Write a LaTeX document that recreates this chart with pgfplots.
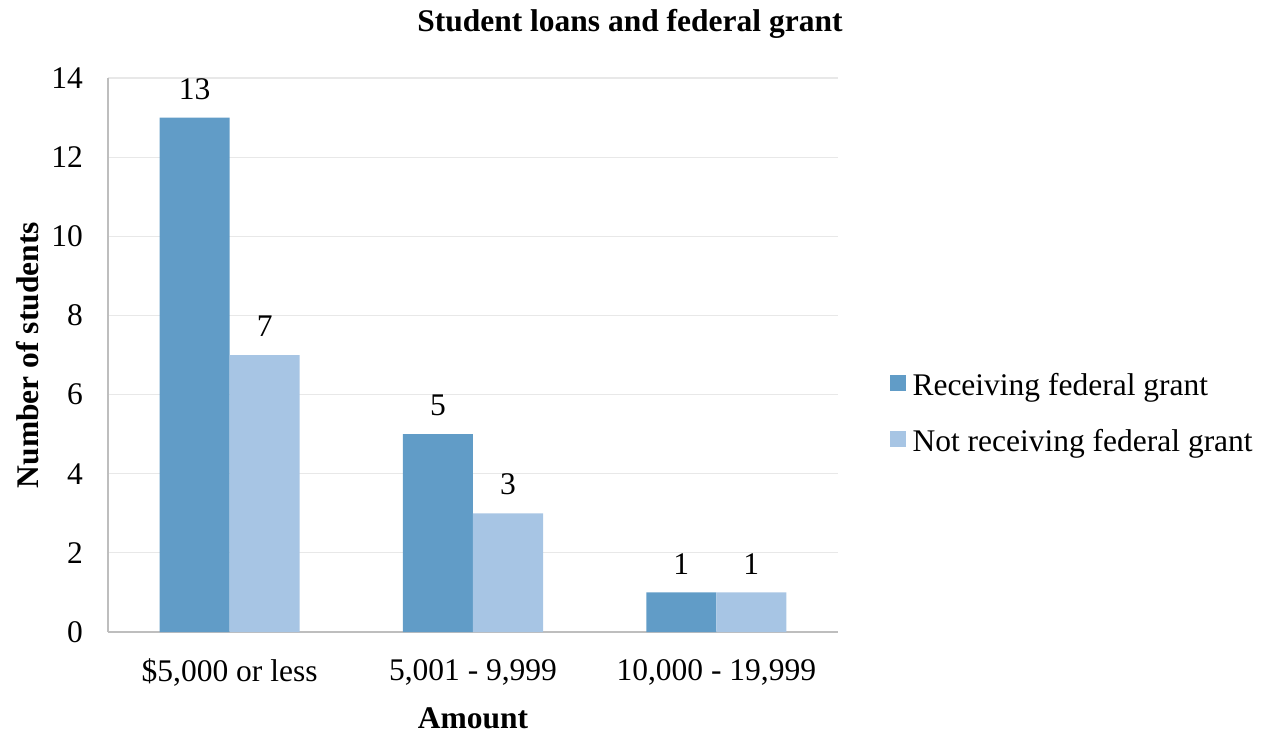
\documentclass[border=0pt]{standalone}
\usepackage{pgfplots}
\pgfplotsset{compat=1.18}
\usepackage{fontspec}
\setmainfont{Liberation Serif}
\definecolor{darkb}{RGB}{97,156,199}
\definecolor{lightb}{RGB}{167,197,228}
\definecolor{gridc}{RGB}{232,232,232}
\definecolor{axc}{RGB}{190,190,190}
\begin{document}
\begin{tikzpicture}[font=\fontsize{15.75pt}{18pt}\selectfont]
\useasboundingbox (0,0) rectangle (640.5pt,368pt);
\begin{axis}[
  at={(54pt,52pt)}, anchor=south west,
  scale only axis, width=365pt, height=277pt,
  /pgf/number format/assume math mode=true,
  ybar=0pt, bar width=35pt,
  xmin=-0.5, xmax=2.5, ymin=0, ymax=14,
  xtick=data, xticklabels={{\$5,000 or less},{5,001 - 9,999},{10,000 - 19,999}},
  ytick={0,2,...,14},
  major tick length=0pt,
  axis x line*=bottom, axis y line*=left,
  axis line style={draw=axc, line width=0.8pt},
  ymajorgrids, grid style={draw=gridc, line width=0.6pt},
  xticklabel style={yshift=-10pt},
  yticklabel style={xshift=-9pt},
  title={\textbf{Student loans and federal grant}},
  title style={at={(axis description cs:0.715,1.076)}, anchor=center},
  xlabel={\textbf{Amount}},
  xlabel style={at={(axis description cs:0.5,-0.155)}, anchor=center},
  ylabel={\textbf{Number of students}},
  ylabel style={at={(axis description cs:-0.1096,0.5)}, anchor=center},
  nodes near coords,
  every node near coord/.append style={yshift=5.5pt, font=\fontsize{15.75pt}{18pt}\selectfont},
  legend style={draw=none, fill=none, at={(axis description cs:1.07,0.393)}, anchor=west,
    inner sep=0pt, row sep=13.5pt, nodes={inner sep=1pt, anchor=west},
    font=\fontsize{15.75pt}{18pt}\selectfont},
  legend cell align=left,
  legend image code/.code={\fill[#1] (0pt,-2.5pt) rectangle (8pt,5.5pt); \path (10.5pt,0pt);},
]
\addplot[fill=darkb, draw=none] coordinates {(0,13) (1,5) (2,1)};
\addplot[fill=lightb, draw=none] coordinates {(0,7) (1,3) (2,1)};
\legend{Receiving federal grant, Not receiving federal grant}
\end{axis}
\end{tikzpicture}
\end{document}
